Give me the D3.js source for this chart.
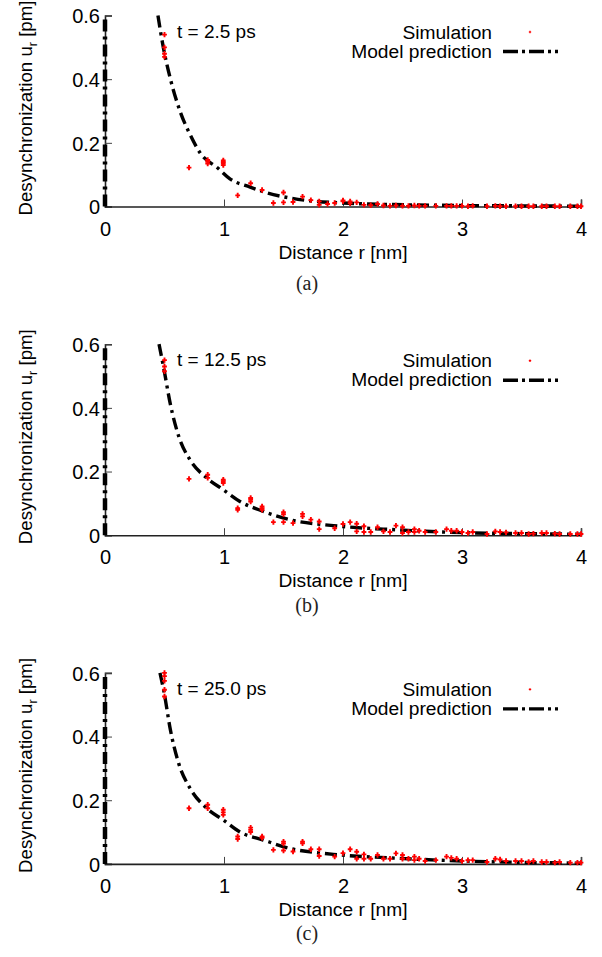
<!DOCTYPE html>
<html>
<head>
<meta charset="utf-8">
<script src="https://cdn.jsdelivr.net/npm/d3@7"></script>
<style>
  body { margin: 0; background: #fff; }
  .sans { font-family: "Liberation Sans", Arial, sans-serif; fill: #000; }
  .serif { font-family: "Liberation Serif", "DejaVu Serif", serif; fill: #222; }
</style>
</head>
<body>
<svg width="602" height="957"></svg>
<script>
var xTicks = [0, 1, 2, 3, 4];
var yTicks = [0, 0.2, 0.4, 0.6];
var timeLabels = ["t = 2.5 ps", "t = 12.5 ps", "t = 25.0 ps"];
var captions = ["(a)", "(b)", "(c)"];

// simulation points [r, u]
var simA = [[0.5,0.47],[0.5,0.48],[0.5,0.50],[0.5,0.54],[0.706,0.122],[0.863,0.135],[0.863,0.141],[0.863,0.146],
  [0.994,0.13],[0.994,0.135],[0.994,0.14],[0.994,0.145],[1.115,0.035],[1.224,0.073],[1.32,0.052],[1.415,0.011],
  [1.5,0.044],[1.5,0.013],[1.58,0.014],[1.66,0.031],[1.73,0.02],[1.8,0.016],[1.8,0.005],[1.87,0.008],[1.93,0.011],
  [2.0,0.016],[2.0,0.019],[2.06,0.016],[2.06,0.01],[2.115,0.013],[2.176,0.005],[2.233,0.004],[2.29,0.008],[2.34,0.003],
  [2.395,0.002],[2.445,0.003],[2.5,0.002],[2.55,0.002],[2.6,0.003],[2.64,0.002],[2.69,0.002],[2.78,0.002],[2.87,0.002],
  [2.91,0.002],[2.955,0.002],[3.0,0.002],[3.05,0.001],[3.09,0.002],[3.21,0.001],[3.28,0.002],[3.32,0.001],[3.37,0.001],
  [3.45,0.001],[3.5,0.001],[3.56,0.001],[3.6,0.001],[3.67,0.001],[3.71,0.001],[3.78,0.001],[3.82,0.001],[3.91,0.001],
  [3.97,0.001],[4.0,0.001]];
var simB = [[0.5,0.515],[0.5,0.53],[0.5,0.55],[0.706,0.177],[0.863,0.18],[0.863,0.19],[0.994,0.164],[0.994,0.17],[0.994,0.174],
  [1.115,0.08],[1.115,0.085],[1.224,0.106],[1.224,0.112],[1.224,0.117],[1.32,0.08],[1.32,0.085],[1.32,0.09],[1.415,0.041],
  [1.5,0.041],[1.5,0.066],[1.5,0.072],[1.58,0.038],[1.66,0.059],[1.66,0.067],[1.73,0.049],[1.8,0.043],[1.8,0.019],
  [1.93,0.022],[2.0,0.035],[2.06,0.041],[2.115,0.036],[2.115,0.012],[2.176,0.028],[2.176,0.01],[2.233,0.01],[2.29,0.025],
  [2.34,0.012],[2.395,0.01],[2.445,0.03],[2.5,0.025],[2.5,0.007],[2.55,0.01],[2.6,0.019],[2.6,0.01],[2.64,0.014],
  [2.69,0.01],[2.78,0.01],[2.87,0.019],[2.91,0.014],[2.955,0.014],[3.0,0.01],[3.05,0.007],[3.09,0.01],[3.21,0.004],
  [3.28,0.012],[3.32,0.01],[3.37,0.009],[3.45,0.007],[3.5,0.007],[3.56,0.004],[3.6,0.005],[3.67,0.007],[3.71,0.007],
  [3.78,0.005],[3.82,0.004],[3.91,0.004],[3.97,0.004],[4.0,0.004]];
var simC = [[0.5,0.526],[0.5,0.547],[0.5,0.575],[0.5,0.59],[0.5,0.6],[0.706,0.175],[0.863,0.175],[0.863,0.186],
  [0.994,0.154],[0.994,0.162],[0.994,0.17],[1.115,0.078],[1.115,0.086],[1.224,0.1],[1.224,0.107],[1.224,0.114],
  [1.32,0.082],[1.32,0.086],[1.415,0.044],[1.5,0.042],[1.5,0.064],[1.5,0.07],[1.58,0.039],[1.66,0.065],[1.66,0.07],
  [1.73,0.046],[1.8,0.046],[1.8,0.025],[1.93,0.023],[2.0,0.034],[2.06,0.046],[2.115,0.038],[2.115,0.016],[2.176,0.03],
  [2.176,0.016],[2.233,0.016],[2.29,0.028],[2.34,0.016],[2.395,0.016],[2.445,0.033],[2.5,0.028],[2.5,0.016],[2.55,0.016],
  [2.6,0.023],[2.6,0.012],[2.64,0.016],[2.69,0.009],[2.78,0.012],[2.87,0.023],[2.91,0.019],[2.955,0.016],[3.0,0.009],
  [3.05,0.012],[3.09,0.012],[3.21,0.006],[3.28,0.016],[3.32,0.014],[3.37,0.009],[3.45,0.009],[3.5,0.009],[3.56,0.006],
  [3.6,0.009],[3.67,0.006],[3.71,0.006],[3.78,0.004],[3.82,0.006],[3.91,0.004],[3.97,0.004],[4.0,0.004]];

// model prediction curves [r, u]
var modelA = [[0.445,0.6],[0.49,0.5],[0.55,0.4],[0.63,0.3],[0.72,0.222],[0.8,0.168],[0.95,0.12],[1.05,0.087],
  [1.22,0.061],[1.36,0.043],[1.55,0.027],[1.72,0.018],[2.0,0.011],[2.3,0.007],[2.6,0.005],[3.0,0.003],[3.5,0.002],[4.0,0.001]];
var modelB = [[0.454,0.6],[0.496,0.52],[0.55,0.41],[0.62,0.31],[0.714,0.237],[0.854,0.18],[0.994,0.143],[1.134,0.106],
  [1.33,0.075],[1.55,0.049],[1.92,0.03],[2.45,0.017],[3.0,0.008],[3.5,0.005],[4.0,0.003]];
var modelC = [[0.462,0.6],[0.496,0.54],[0.55,0.42],[0.62,0.315],[0.714,0.238],[0.854,0.175],[0.994,0.138],[1.134,0.1],
  [1.33,0.075],[1.55,0.049],[1.92,0.03],[2.45,0.018],[3.0,0.009],[3.5,0.005],[4.0,0.002]];
// model value at r = 0 drawn along the axis
var modelZero = [[0, 0], [0, 0.6]];

var sims = [simA, simB, simC];
var models = [modelA, modelB, modelC];

var svg = d3.select("svg");
svg.append("rect").attr("width", 602).attr("height", 957).attr("fill", "#fff");

var panelTop = [15.5, 344.2, 672.9];
var captionY = [290, 612, 940];
var plotH = 191;

var x = d3.scaleLinear().domain([0, 4]).range([105, 581]);
var y = d3.scaleLinear().domain([0, 0.6]).range([plotH, 0]);

var line = d3.line()
  .x(function(d) { return x(d[0]); })
  .y(function(d) { return y(d[1]); })
  .curve(d3.curveMonotoneX);

var dash = "12,5,3,5";

for (var i = 0; i < 3; i++) {
  var g = svg.append("g").attr("transform", "translate(0," + panelTop[i] + ")");

  // axes, ticks pointing inward (gnuplot style)
  var xAxis = g.append("g").attr("transform", "translate(0," + plotH + ")")
    .call(d3.axisBottom(x).tickValues(xTicks).tickSize(-7).tickPadding(15).tickFormat(d3.format("d")));
  var yAxis = g.append("g").attr("transform", "translate(105,0)")
    .call(d3.axisLeft(y).tickValues(yTicks).tickSize(-7).tickPadding(5)
      .tickFormat(function(d) { return d === 0 ? "0" : d3.format(".1f")(d); }));
  [xAxis, yAxis].forEach(function(a) {
    a.select(".domain").attr("stroke", "#222").attr("stroke-width", 1.6);
    a.selectAll(".tick line").attr("stroke", "#444").attr("stroke-width", 1);
    a.selectAll(".tick text").attr("class", "sans").attr("font-size", 20);
  });
  xAxis.select(".tick line").remove();
  yAxis.select(".tick line").remove();
  yAxis.selectAll(".tick text").attr("dy", "0.36em");

  // model curve
  g.append("path").datum(models[i])
    .attr("d", line)
    .attr("fill", "none").attr("stroke", "#000").attr("stroke-width", 3.4)
    .attr("stroke-dasharray", dash);
  g.append("path").datum(modelZero)
    .attr("d", d3.line().x(function(d) { return x(d[0]); }).y(function(d) { return y(d[1]); }))
    .attr("fill", "none").attr("stroke", "#000").attr("stroke-width", 4.5)
    .attr("stroke-dasharray", dash);

  // simulation points
  g.selectAll(".pt").data(sims[i]).enter().append("path")
    .attr("class", "pt")
    .attr("transform", function(d) { return "translate(" + x(d[0]) + "," + y(d[1]) + ")"; })
    .attr("d", "M-2.4,0H2.4M0,-2.7V2.7")
    .attr("stroke", "#f00").attr("stroke-width", 1.9).attr("fill", "none");

  // time label
  g.append("text").attr("class", "sans").attr("x", 177).attr("y", 22).attr("font-size", 19).text(timeLabels[i]);

  // legend
  g.append("text").attr("class", "sans").attr("x", 492).attr("y", 23).attr("text-anchor", "end")
    .attr("font-size", 19.2).text("Simulation");
  g.append("path").attr("transform", "translate(530,16.5)").attr("d", "M-1.2,0H1.2M0,-1.2V1.2")
    .attr("stroke", "#f00").attr("stroke-width", 1.2);
  g.append("text").attr("class", "sans").attr("x", 492).attr("y", 42).attr("text-anchor", "end")
    .attr("font-size", 19.2).text("Model prediction");
  g.append("line").attr("x1", 503).attr("x2", 558).attr("y1", 36).attr("y2", 36)
    .attr("stroke", "#000").attr("stroke-width", 3.4).attr("stroke-dasharray", "15,4,3,4");

  // axis titles
  g.append("text").attr("class", "sans").attr("x", 343).attr("y", plotH + 52).attr("text-anchor", "middle")
    .attr("font-size", 19.2).text("Distance r [nm]");
  var yl = g.append("text").attr("class", "sans").attr("transform", "translate(32," + (plotH / 2 - 3) + ") rotate(-90)")
    .attr("text-anchor", "middle").attr("font-size", 18.7);
  yl.append("tspan").text("Desynchronization u");
  yl.append("tspan").attr("font-size", 12.5).attr("dy", 5).text("r");
  yl.append("tspan").attr("dy", -5).text(" [pm]");

  svg.append("text").attr("class", "serif").attr("x", 307).attr("y", captionY[i]).attr("text-anchor", "middle")
    .attr("font-size", 20).text(captions[i]);
}
</script>
</body>
</html>
